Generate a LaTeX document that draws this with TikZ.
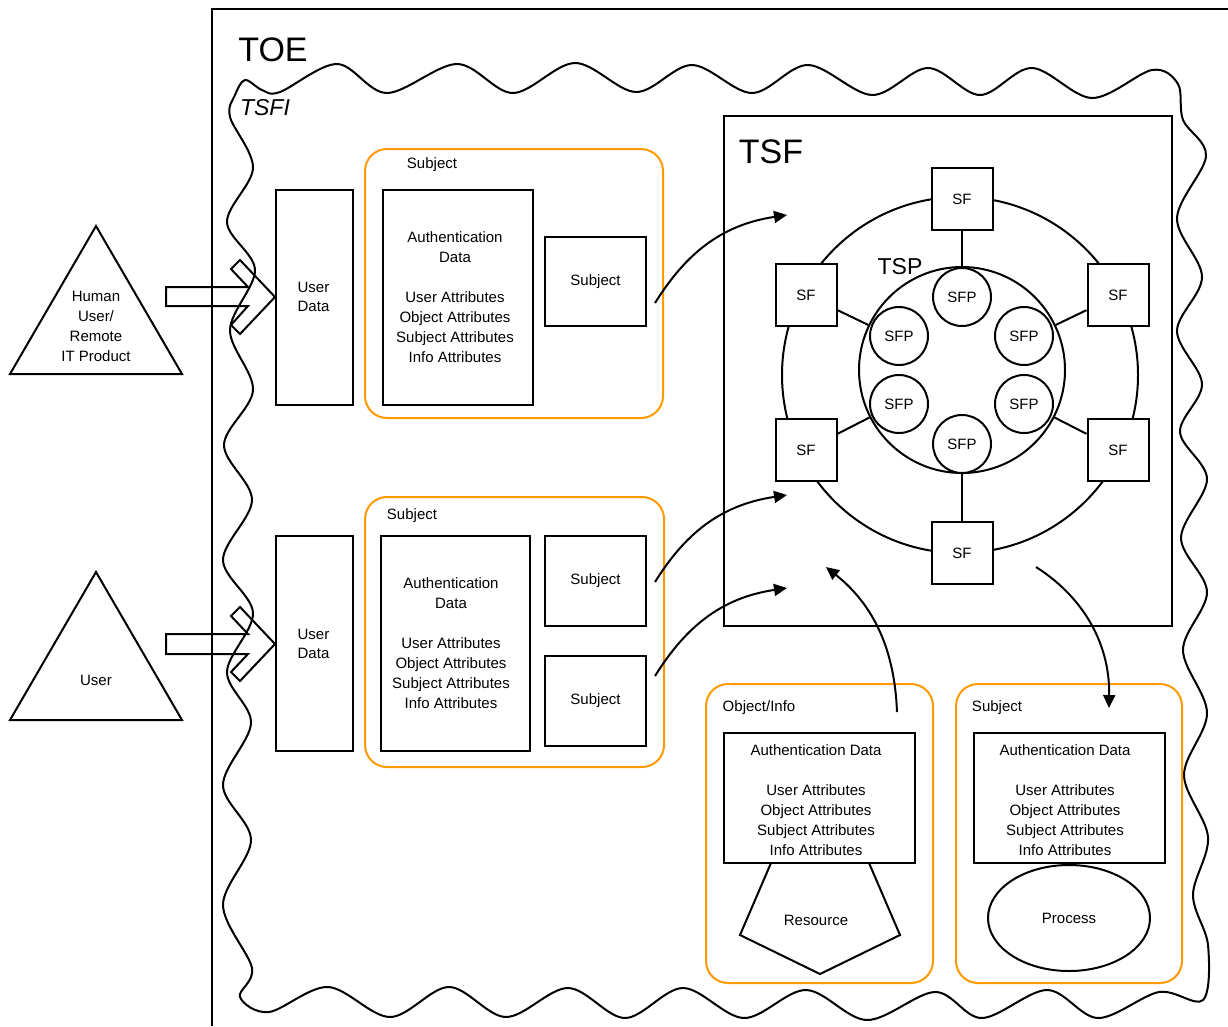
\documentclass[tikz,border=0pt]{standalone}
\usepackage{fontspec}
\setmainfont{Liberation Sans}
\usetikzlibrary{arrows.meta,shapes.geometric}
\definecolor{orng}{RGB}{255,153,0}
\begin{document}
\begin{tikzpicture}[x=1pt,y=-1pt,
  ln/.style={line width=2pt},
  box/.style={draw, line width=2pt, fill=white},
  obox/.style={draw=orng, line width=2pt, rounded corners=22pt},
  txt/.style={font=\fontsize{15}{20}\selectfont, align=center, inner sep=0pt},
  arr/.style={line width=2pt, -{Triangle[length=13pt,width=12pt]}},
  big/.style={font=\fontsize{34}{40}\selectfont, inner sep=0pt},
  mid/.style={font=\fontsize{23}{28}\selectfont, inner sep=0pt},
  sfbox/.style={box, txt, minimum width=61pt, minimum height=62pt},
  sfp/.style={draw, line width=2pt, circle, fill=white, txt, minimum size=58pt},
]
\fill[white] (0,0) rectangle (1228,1026);
\useasboundingbox (0,0) rectangle (1228,1026);

% TOE frame
\draw[ln] (212,1026) -- (212,9) -- (1228,9);
\node[big] (toe) at (273,50) {TOE};

% TSFI wavy boundary
\draw[ln] plot[smooth cycle, tension=0.55] coordinates {
 (245,80) (262,90) (280,92) (337,64) (387,93) (457,64) (513,93) (575,63)
 (636,92) (692,65) (752,93) (808,65) (872,95) (928,68) (980,95) (1032,68)
 (1092,98) (1152,70) (1178,84)
 (1183,120) (1206,156) (1177,218) (1202,277) (1177,331) (1202,384) (1180,432)
 (1207,479) (1181,538) (1207,592) (1183,650) (1207,713) (1184,775) (1208,837)
 (1193,895) (1208,945) (1203,1000)
 (1159,992) (1098,1018) (1047,990) (982,1018) (935,992) (867,1020) (806,990)
 (744,1018) (683,988) (625,1018) (568,988) (506,1017) (449,987) (390,1017)
 (328,987) (269,1012) (240,997)
 (252,968) (223,905) (251,840) (223,785) (251,723) (227,672) (253,613)
 (223,560) (252,500) (224,445) (253,390) (230,330) (255,270) (227,222)
 (253,168) (230,117) (235,95)};
\node[mid, font=\fontsize{23}{28}\selectfont\itshape] (tsfi) at (265,108) {TSFI};

% external entities
\draw[ln] (96,226) -- (182,374) -- (10,374) -- cycle;
\node[txt] (human) at (96,326) {Human\\User/\\Remote\\IT Product};
\draw[ln] (96,572) -- (182,720) -- (10,720) -- cycle;
\node[txt] (user) at (96,680) {User};

% block arrows
\draw[ln] (166,287) -- (248,287) -- (231,269) -- (240,260) -- (275,297) -- (240,334) -- (231,325) -- (248,306) -- (166,306) -- cycle;
\draw[ln] (166,634) -- (248,634) -- (231,616) -- (240,607) -- (275,644) -- (240,681) -- (231,672) -- (248,654) -- (166,654) -- cycle;

% User Data boxes
\node[box, minimum width=77pt, minimum height=215pt, inner sep=0pt] (ud1) at (314.5,297.5) {};
\node[txt, font=\fontsize{15}{19}\selectfont] (ud1t) at (313.5,297) {User\\Data};
\node[box, minimum width=77pt, minimum height=215pt, inner sep=0pt] (ud2) at (314.5,643.5) {};
\node[txt, font=\fontsize{15}{19}\selectfont] (ud2t) at (313.5,644) {User\\Data};

% Subject group 1
\draw[obox] (365,149) rectangle (663,418);
\node[txt] (g1l) at (432,165) {Subject};
\draw[box] (383,190) rectangle (533,405);
\node[txt] (g1t) at (455,297) {Authentication\\Data\\[20pt]User Attributes\\Object Attributes\\Subject Attributes\\Info Attributes};
\node[box, txt, minimum width=101pt, minimum height=89pt] (sb1) at (595.5,281.5) {Subject};

% Subject group 2
\draw[obox] (365,497) rectangle (664,767);
\node[txt] (g2l) at (412,516) {Subject};
\draw[box] (381,536) rectangle (530,751);
\node[txt] (g2t) at (451,643.5) {Authentication\\Data\\[20pt]User Attributes\\Object Attributes\\Subject Attributes\\Info Attributes};
\node[box, txt, minimum width=101pt, minimum height=90pt] (sb2) at (595.5,581) {Subject};
\node[box, txt, minimum width=101pt, minimum height=90pt] (sb3) at (595.5,701) {Subject};

% TSF
\node[draw, ln, minimum width=448pt, minimum height=510pt] (tsfb) at (948,371) {};
\node[big] (tsfl) at (771,152) {TSF};
\node[draw, ln, circle, minimum size=356pt] (ring) at (960,375) {};
\node[draw, ln, circle, minimum size=206pt] (tsp) at (962,370) {};
\node[mid] (tspl) at (900,267) {TSP};

\node[sfp] (p1) at (962,297) {SFP};
\node[sfp] (p2) at (899,336) {SFP};
\node[sfp] (p3) at (1024,336) {SFP};
\node[sfp] (p4) at (899,404) {SFP};
\node[sfp] (p5) at (1024,404) {SFP};
\node[sfp] (p6) at (962,444) {SFP};

\node[sfbox] (f1) at (962,199) {SF};
\node[sfbox] (f2) at (806,295) {SF};
\node[sfbox] (f3) at (1118,295) {SF};
\node[sfbox] (f4) at (806,450) {SF};
\node[sfbox] (f5) at (1118,450) {SF};
\node[sfbox] (f6) at (962,553) {SF};

\foreach \f in {f1,f2,f3,f4,f5,f6} \draw[ln] (tsp) -- (\f);

% Object/Info group
\draw[obox] (706,684) rectangle (933,983);
\node[txt] (oil) at (759,708) {Object/Info};
\draw[box] (724,733) rectangle (915,863);
\node[txt] (oit) at (816,800) {Authentication Data\\[20pt]User Attributes\\Object Attributes\\Subject Attributes\\Info Attributes};
\draw[ln, line join=miter] (771,863) -- (740,935) -- (820,974) -- (900,935) -- (869,863);
\node[txt] (res) at (816,920) {Resource};

% Subject group 3
\draw[obox] (956,684) rectangle (1182,983);
\node[txt] (g3l) at (997,708) {Subject};
\draw[box] (974,733) rectangle (1165,863);
\node[txt] (g3t) at (1065,800) {Authentication Data\\[20pt]User Attributes\\Object Attributes\\Subject Attributes\\Info Attributes};
\node[draw, ln, ellipse, txt, minimum width=162pt, minimum height=106pt] (proc) at (1069,918) {Process};

% curved arrows
\coordinate (a1s) at (655,303); \coordinate (a1e) at (787,215);
\coordinate (a2s) at (655,582); \coordinate (a2e) at (787,495);
\coordinate (a3s) at (655,676); \coordinate (a3e) at (787,588);
\coordinate (a4s) at (897,712); \coordinate (a4e) at (826,567);
\coordinate (a5s) at (1036,567); \coordinate (a5e) at (1109,708);
\draw[arr] (a1s) .. controls (685,255) and (720,225) .. (a1e);
\draw[arr] (a2s) .. controls (685,534) and (720,505) .. (a2e);
\draw[arr] (a3s) .. controls (685,628) and (720,598) .. (a3e);
\draw[arr] (a4s) .. controls (895,660) and (880,610) .. (a4e);
\draw[arr] (a5s) .. controls (1080,595) and (1110,640) .. (a5e);
\end{tikzpicture}
\end{document}
